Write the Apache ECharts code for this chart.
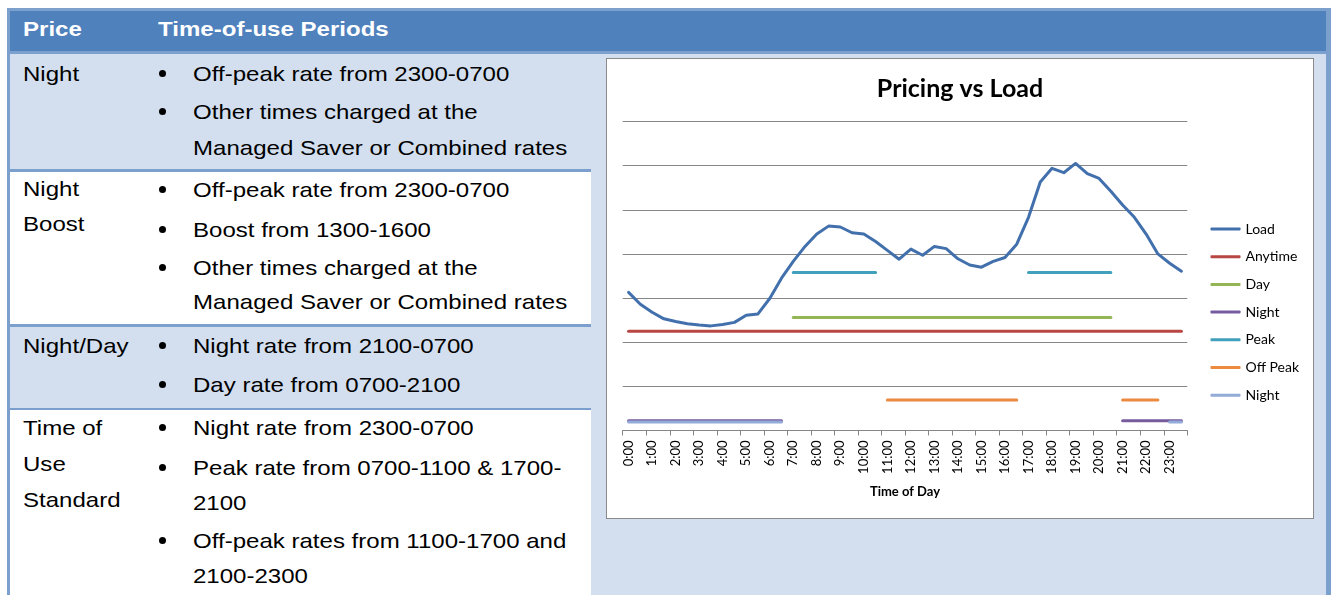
<!DOCTYPE html>
<html>
<head>
<meta charset="utf-8">
<script src="https://cdn.jsdelivr.net/npm/echarts@6/dist/echarts.min.js"></script>
<style>
html,body{margin:0;padding:0;background:#fff;width:1331px;height:595px;overflow:hidden;position:relative;}
.box{position:absolute;}
.t{position:absolute;font-family:'Liberation Sans',Arial,sans-serif;font-size:21px;line-height:21px;color:#000;white-space:nowrap;transform:scaleX(1.145);transform-origin:0 0;}
.h{color:#fff;font-weight:bold;}
.b{position:absolute;width:7px;height:7px;border-radius:50%;background:#000;}
#chart{position:absolute;left:606px;top:58px;width:706px;height:459px;border:1px solid #8a8a8a;background:#fff;}
</style>
</head>
<body>
<div class="box" style="left:7px;top:8px;width:1324px;height:587px;background:#7BA0CD;"></div>
<div class="box" style="left:10px;top:11px;width:1316px;height:40px;background:#4F81BD;"></div>
<div class="box" style="left:10px;top:54px;width:581px;height:115px;background:#D3DFEE;"></div>
<div class="box" style="left:10px;top:172px;width:581px;height:152px;background:#fff;"></div>
<div class="box" style="left:10px;top:327px;width:581px;height:81px;background:#D3DFEE;"></div>
<div class="box" style="left:10px;top:410px;width:581px;height:185px;background:#fff;"></div>
<div class="box" style="left:591px;top:54px;width:735px;height:541px;background:#D3DFEE;"></div>

<div class="t h" style="left:23px;top:17.5px;">Price</div>
<div class="t h" style="left:158px;top:17.5px;">Time-of-use Periods</div>

<div class="t" style="left:23px;top:62.7px;">Night</div>
<div class="t" style="left:23px;top:177.7px;">Night</div>
<div class="t" style="left:23px;top:212.7px;">Boost</div>
<div class="t" style="left:23px;top:334.7px;">Night/Day</div>
<div class="t" style="left:23px;top:417.2px;">Time of</div>
<div class="t" style="left:23px;top:452.7px;">Use</div>
<div class="t" style="left:23px;top:488.7px;">Standard</div>

<div class="t" style="left:193px;top:63.2px;">Off-peak rate from 2300-0700</div>
<div class="t" style="left:193px;top:100.7px;">Other times charged at the</div>
<div class="t" style="left:193px;top:136.7px;">Managed Saver or Combined rates</div>
<div class="t" style="left:193px;top:178.7px;">Off-peak rate from 2300-0700</div>
<div class="t" style="left:193px;top:218.7px;">Boost from 1300-1600</div>
<div class="t" style="left:193px;top:257.2px;">Other times charged at the</div>
<div class="t" style="left:193px;top:291.2px;">Managed Saver or Combined rates</div>
<div class="t" style="left:193px;top:334.7px;">Night rate from 2100-0700</div>
<div class="t" style="left:193px;top:373.7px;">Day rate from 0700-2100</div>
<div class="t" style="left:193px;top:417.2px;">Night rate from 2300-0700</div>
<div class="t" style="left:193px;top:457.2px;">Peak rate from 0700-1100 &amp; 1700-</div>
<div class="t" style="left:193px;top:492.2px;">2100</div>
<div class="t" style="left:193px;top:530.2px;">Off-peak rates from 1100-1700 and</div>
<div class="t" style="left:193px;top:565.2px;">2100-2300</div>

<div class="b" style="left:159px;top:70px;"></div>
<div class="b" style="left:159px;top:107.5px;"></div>
<div class="b" style="left:159px;top:185.5px;"></div>
<div class="b" style="left:159px;top:225.5px;"></div>
<div class="b" style="left:159px;top:264px;"></div>
<div class="b" style="left:159px;top:341.5px;"></div>
<div class="b" style="left:159px;top:380.5px;"></div>
<div class="b" style="left:159px;top:424px;"></div>
<div class="b" style="left:159px;top:464px;"></div>
<div class="b" style="left:159px;top:537px;"></div>

<div id="chart"></div>
<script>
var times = ["0:00","0:30","1:00","1:30","2:00","2:30","3:00","3:30","4:00","4:30","5:00","5:30",
"6:00","6:30","7:00","7:30","8:00","8:30","9:00","9:30","10:00","10:30","11:00","11:30",
"12:00","12:30","13:00","13:30","14:00","14:30","15:00","15:30","16:00","16:30","17:00","17:30",
"18:00","18:30","19:00","19:30","20:00","20:30","21:00","21:30","22:00","22:30","23:00","23:30"];

var load = [3.13,2.86,2.68,2.53,2.47,2.42,2.39,2.37,2.40,2.45,2.61,2.64,
2.99,3.45,3.83,4.17,4.45,4.63,4.61,4.48,4.45,4.28,4.08,3.88,
4.11,3.97,4.17,4.12,3.89,3.75,3.70,3.83,3.92,4.22,4.83,5.63,
5.94,5.84,6.05,5.82,5.71,5.42,5.11,4.83,4.45,4.00,3.79,3.61];

var N = null;
var anytime = [2.25,2.25,2.25,2.25,2.25,2.25,2.25,2.25,2.25,2.25,2.25,2.25,
2.25,2.25,2.25,2.25,2.25,2.25,2.25,2.25,2.25,2.25,2.25,2.25,
2.25,2.25,2.25,2.25,2.25,2.25,2.25,2.25,2.25,2.25,2.25,2.25,
2.25,2.25,2.25,2.25,2.25,2.25,2.25,2.25,2.25,2.25,2.25,2.25];

var day = [N,N,N,N,N,N,N,N,N,N,N,N,
N,N,2.56,2.56,2.56,2.56,2.56,2.56,2.56,2.56,2.56,2.56,
2.56,2.56,2.56,2.56,2.56,2.56,2.56,2.56,2.56,2.56,2.56,2.56,
2.56,2.56,2.56,2.56,2.56,2.56,N,N,N,N,N,N];

var nightND = [0.22,0.22,0.22,0.22,0.22,0.22,0.22,0.22,0.22,0.22,0.22,0.22,
0.22,0.22,N,N,N,N,N,N,N,N,N,N,
N,N,N,N,N,N,N,N,N,N,N,N,
N,N,N,N,N,N,0.22,0.22,0.22,0.22,0.22,0.22];

var peak = [N,N,N,N,N,N,N,N,N,N,N,N,
N,N,3.58,3.58,3.58,3.58,3.58,3.58,3.58,3.58,N,N,
N,N,N,N,N,N,N,N,N,N,3.58,3.58,
3.58,3.58,3.58,3.58,3.58,3.58,N,N,N,N,N,N];

var offPeak = [N,N,N,N,N,N,N,N,N,N,N,N,
N,N,N,N,N,N,N,N,N,N,0.69,0.69,
0.69,0.69,0.69,0.69,0.69,0.69,0.69,0.69,0.69,0.69,N,N,
N,N,N,N,N,N,0.69,0.69,0.69,0.69,N,N];

var nightTOU = [0.19,0.19,0.19,0.19,0.19,0.19,0.19,0.19,0.19,0.19,0.19,0.19,
0.19,0.19,N,N,N,N,N,N,N,N,N,N,
N,N,N,N,N,N,N,N,N,N,N,N,
N,N,N,N,N,N,N,N,N,N,0.19,0.19];

var seriesNames = ["Load","Anytime","Day","Night","Peak","Off Peak","Night "];
var seriesColors = ["#4270AC","#B84744","#93B553","#765B9E","#41A0BC","#EC8A3F","#93ABD8"];
var seriesData = [load, anytime, day, nightND, peak, offPeak, nightTOU];

var chart = echarts.init(document.getElementById('chart'));
var FONT = 'Lato, "Open Sans", sans-serif';
chart.setOption({
  animation: false,
  title: {
    text: 'Pricing vs Load', left: 'center', top: 12,
    textStyle: {fontFamily: FONT, fontSize: 25, fontWeight: 'bold', color: '#000'}
  },
  legend: {
    orient: 'vertical', left: 598.5, top: 158,
    icon: 'roundRect',
    itemWidth: 30, itemHeight: 3, itemGap: 13.7,
    data: seriesNames,
    textStyle: {fontFamily: FONT, fontSize: 14, color: '#000'}
  },
  grid: {left: 15.7, top: 62.5, width: 564.6, height: 309},
  xAxis: {
    type: 'category', data: times, boundaryGap: true,
    name: 'Time of Day', nameLocation: 'middle', nameGap: 55,
    nameTextStyle: {fontFamily: FONT, fontSize: 13, fontWeight: 'bold', color: '#000'},
    axisLine: {lineStyle: {color: '#868686', width: 1}},
    axisTick: {show: true, interval: 1, length: 5, lineStyle: {color: '#868686'}},
    axisLabel: {interval: 1, rotate: 90, margin: 10, fontFamily: FONT, fontSize: 13, color: '#000'}
  },
  yAxis: {
    type: 'value', min: 0, max: 7, interval: 1,
    axisLabel: {show: false}, axisLine: {show: false}, axisTick: {show: false},
    splitLine: {lineStyle: {color: '#868686', width: 1}}
  },
  series: seriesNames.map(function (nm, i) {
    return {
      name: nm, type: 'line', data: seriesData[i], symbol: 'none',
      connectNulls: false, smooth: false,
      lineStyle: {color: seriesColors[i], width: 3, cap: 'round', join: 'round'},
      itemStyle: {color: seriesColors[i]},
      emphasis: {disabled: true}
    };
  })
});
</script>
</body>
</html>
